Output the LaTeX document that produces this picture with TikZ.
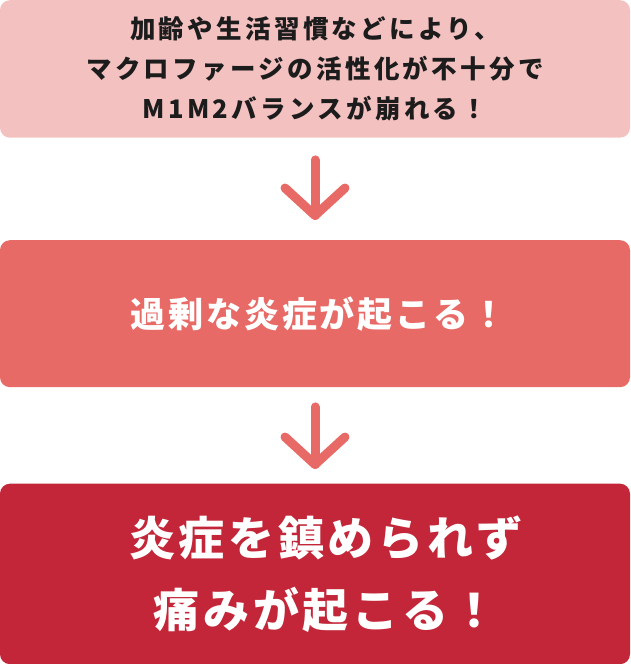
\documentclass[tikz,border=0pt]{standalone}
\usepackage{fontspec}
\newfontfamily\jp{Noto Sans CJK JP}
\usetikzlibrary{calc}
\definecolor{boxa}{RGB}{244,193,193}
\definecolor{boxb}{RGB}{232,106,102}
\definecolor{boxc}{RGB}{195,38,56}
\definecolor{arrowc}{RGB}{232,106,102}
\definecolor{inka}{RGB}{28,28,28}
\begin{document}
\begin{tikzpicture}[x=1pt,y=1pt,
  box/.style={rectangle, rounded corners=10pt, minimum width=630pt, inner sep=0pt, align=center, anchor=north},
  arr/.style={draw=arrowc, line width=9pt, line cap=round, line join=round}]
\useasboundingbox (0,0) rectangle (630,664);
\node[box, fill=boxa, minimum height=137.5pt, text=inka,
  font={\jp\bfseries\fontsize{25.5}{40}\selectfont\addfontfeature{LetterSpace=13}}] (b1) at (315,664)
  {加齢や生活習慣などにより、\\マクロファージの活性化が不十分で\\M1M2バランスが崩れる！};
\node[box, fill=boxb, minimum height=147pt, text=white,
  font={\jp\bfseries\fontsize{35}{40}\selectfont\addfontfeature{LetterSpace=8}}] (b2) at (315,424)
  {\hspace*{7pt}過剰な炎症が起こる！};
\node[box, fill=boxc, minimum height=180.5pt, text=white,
  font={\jp\bfseries\fontsize{46}{72}\selectfont\addfontfeature{LetterSpace=8}}] (b3) at (315,180.5)
  {\hspace*{22pt}炎症を鎮められず\\\hspace*{22pt}痛みが起こる！};
\coordinate (t1) at ($(b2.north)+(0,24.5)$);
\draw[arr] ($(b1.south)-(0,22)$) -- (t1);
\draw[arr] ($(t1)+(-30,27.5)$) -- (t1) -- ($(t1)+(30,27.5)$);
\coordinate (t2) at ($(b3.north)+(0,19)$);
\draw[arr] ($(b2.south)-(0,19.5)$) -- (t2);
\draw[arr] ($(t2)+(-30,27.5)$) -- (t2) -- ($(t2)+(30,27.5)$);
\end{tikzpicture}
\end{document}
